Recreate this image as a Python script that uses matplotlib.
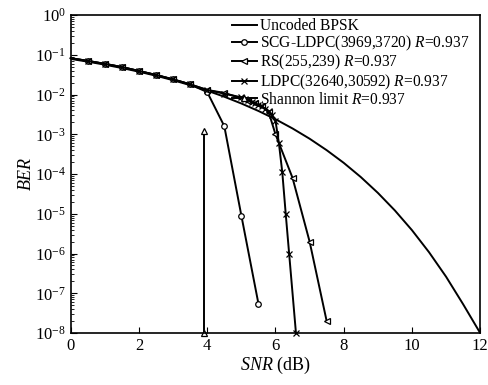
import matplotlib
matplotlib.use("Agg")
import matplotlib.pyplot as plt
from matplotlib.ticker import LogLocator, NullFormatter

plt.rcParams["font.family"] = ["Liberation Serif", "DejaVu Serif"]
plt.rcParams["mathtext.fontset"] = "custom"
plt.rcParams["mathtext.rm"] = "Liberation Serif"
plt.rcParams["mathtext.it"] = "Liberation Serif:italic"

# uncoded BPSK
snr_unc = [0, 0.5, 1, 1.5, 2, 2.5, 3, 3.5, 4, 4.5, 5, 5.5, 6, 6.5, 7, 7.5, 8,
           8.5, 9, 9.5, 10, 10.5, 11, 11.5, 12]
ber_unc = [7.86e-2, 6.71e-2, 5.63e-2, 4.64e-2, 3.75e-2, 2.97e-2, 2.29e-2,
           1.72e-2, 1.25e-2, 8.8e-3, 5.95e-3, 3.86e-3, 2.39e-3, 1.4e-3,
           7.73e-4, 3.98e-4, 1.91e-4, 8.4e-5, 3.36e-5, 1.21e-5, 3.87e-6,
           1.08e-6, 2.61e-7, 5.3e-8, 1.0e-8]

# SCG-LDPC(3969,3720)
snr_scg = [0, 0.5, 1, 1.5, 2, 2.5, 3, 3.5, 4, 4.5, 5, 5.5]
ber_scg = [8.2e-2, 7.0e-2, 5.9e-2, 4.9e-2, 3.9e-2, 3.1e-2, 2.4e-2, 1.8e-2,
           1.15e-2, 1.6e-3, 9e-6, 5.5e-8]

# RS(255,239)
snr_rs = [0, 0.5, 1, 1.5, 2, 2.5, 3, 3.5, 4, 4.5, 5, 5.2, 5.4, 5.6, 5.8,
          6, 6.5, 7, 7.5]
ber_rs = [8.2e-2, 7.0e-2, 5.9e-2, 4.9e-2, 3.9e-2, 3.1e-2, 2.4e-2, 1.8e-2,
          1.3e-2, 1.1e-2, 8e-3, 7e-3, 6e-3, 5e-3, 3.6e-3, 1e-3, 8e-5, 2e-6,
          2e-8]

# LDPC(32640,30592)
snr_ldpc = [0, 0.5, 1, 1.5, 2, 2.5, 3, 3.5, 4, 4.5, 5, 5.1, 5.2, 5.3, 5.4,
            5.5, 5.6, 5.7, 5.8, 5.9, 6, 6.1, 6.2, 6.3, 6.4, 6.6]
ber_ldpc = [8.2e-2, 7.0e-2, 5.9e-2, 4.9e-2, 3.9e-2, 3.1e-2, 2.4e-2, 1.8e-2,
            1.3e-2, 1.05e-2, 8.5e-3, 7.8e-3, 7.2e-3, 6.6e-3, 6.1e-3, 5.5e-3,
            5.0e-3, 4.4e-3, 3.8e-3, 3.0e-3, 2.2e-3, 6e-4, 1.1e-4, 1e-5, 1e-6,
            1e-8]

# Shannon limit
snr_sh = [3.9, 3.9]
ber_sh = [1e-8, 1.2e-3]

fig = plt.figure(figsize=(4.88, 3.85), dpi=100)
ax = fig.add_axes([0.145, 0.135, 0.839, 0.826])

lw = 1.4
mk = dict(markersize=4, markerfacecolor="white", markeredgecolor="black",
          markeredgewidth=0.9, clip_on=False)

ax.plot(snr_unc, ber_unc, color="black", lw=lw, label="Uncoded BPSK")
ax.plot(snr_scg, ber_scg, color="black", lw=lw, marker="o",
        markevery=slice(1, None), label="SCG-LDPC(3969,3720) $R$=0.937", **mk)
ax.plot(snr_rs, ber_rs, color="black", lw=lw, marker="<",
        markevery=slice(1, None), label="RS(255,239) $R$=0.937", **mk)
ax.plot(snr_ldpc, ber_ldpc, color="black", lw=lw, marker="x",
        markevery=slice(1, None), label="LDPC(32640,30592) $R$=0.937", **mk)
ax.plot(snr_sh, ber_sh, color="black", lw=lw, marker="^",
        label="Shannon limit $R$=0.937", **mk)

ax.set_yscale("log")
ax.set_xlim(0, 12)
ax.set_ylim(1e-8, 1)
ax.set_xticks(range(0, 13, 2))
ax.yaxis.set_major_locator(LogLocator(base=10, numticks=20))
ax.yaxis.set_minor_locator(LogLocator(base=10, subs=range(2, 10), numticks=20))
ax.yaxis.set_minor_formatter(NullFormatter())
ax.tick_params(direction="in", labelsize=12, length=4)
ax.tick_params(which="minor", direction="in", length=2)
for s in ax.spines.values():
    s.set_linewidth(1.2)

ax.set_xlabel("$SNR$ (dB)", fontsize=13, labelpad=1)
ax.set_ylabel("$BER$", fontsize=13, labelpad=0)

leg = ax.legend(loc="upper right", bbox_to_anchor=(1.0, 1.025), frameon=False,
                fontsize=11.2, labelspacing=0.0, handlelength=1.6,
                handletextpad=0.2, borderpad=0.2)
leg.set_zorder(5)

fig.savefig("out.png", dpi=100)
